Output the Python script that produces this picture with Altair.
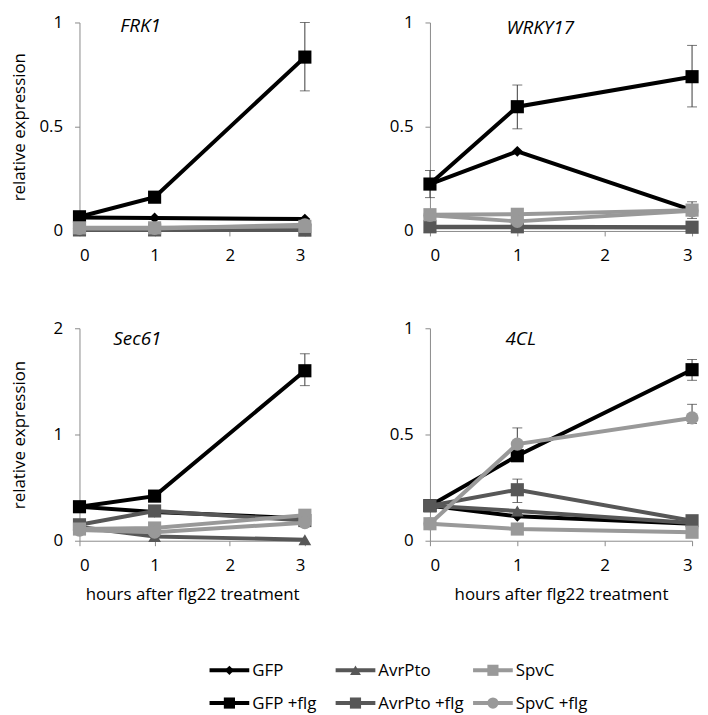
import altair as alt
import pandas as pd

hours = [0, 1, 3]
series = ["GFP", "GFP +flg", "AvrPto", "AvrPto +flg", "SpvC", "SpvC +flg"]
series_colors = ["#000000", "#000000", "#575757", "#575757", "#999999", "#999999"]
series_shapes = ["diamond", "square", "triangle-up", "square", "square", "circle"]
series_sizes = [120, 175, 165, 175, 175, 175]

# ---- values (relative expression) per gene, per series, at hours 0, 1, 3 ----
frk1_vals = [
    [0.065, 0.062, 0.057],   # GFP
    [0.068, 0.162, 0.834],   # GFP +flg
    [0.004, 0.004, 0.004],   # AvrPto
    [0.005, 0.005, 0.004],   # AvrPto +flg
    [0.015, 0.015, 0.022],   # SpvC
    [0.012, 0.012, 0.030],   # SpvC +flg
]
wrky17_vals = [
    [0.225, 0.382, 0.100],
    [0.225, 0.596, 0.740],
    [0.018, 0.018, 0.016],
    [0.020, 0.020, 0.018],
    [0.078, 0.080, 0.100],
    [0.075, 0.046, 0.097],
]
sec61_vals = [
    [0.32, 0.27, 0.21],
    [0.32, 0.42, 1.60],
    [0.13, 0.04, 0.01],
    [0.15, 0.28, 0.19],
    [0.11, 0.12, 0.24],
    [0.10, 0.08, 0.17],
]
cl4_vals = [
    [0.165, 0.115, 0.080],
    [0.165, 0.400, 0.805],
    [0.165, 0.140, 0.083],
    [0.165, 0.240, 0.094],
    [0.080, 0.055, 0.040],
    [0.080, 0.455, 0.578],
]

# ---- error bars: series, hour, low, high ----
frk1_err_series = ["GFP +flg"]
frk1_err_hour = [3]
frk1_err_lo = [0.672]
frk1_err_hi = [1.0]

wrky17_err_series = ["GFP +flg", "GFP +flg", "GFP +flg", "SpvC"]
wrky17_err_hour = [0, 1, 3, 3]
wrky17_err_lo = [0.16, 0.49, 0.595, 0.06]
wrky17_err_hi = [0.29, 0.70, 0.89, 0.14]

sec61_err_series = ["GFP +flg"]
sec61_err_hour = [3]
sec61_err_lo = [1.46]
sec61_err_hi = [1.76]

cl4_err_series = ["GFP +flg", "SpvC +flg", "SpvC +flg", "AvrPto +flg"]
cl4_err_hour = [3, 1, 3, 1]
cl4_err_lo = [0.755, 0.38, 0.552, 0.18]
cl4_err_hi = [0.853, 0.531, 0.642, 0.29]

FONT = "Open Sans"
AXIS_COLOR = "#8a8a8a"
LINE_W = 4


def panel(gene, vals, e_series, e_hour, e_lo, e_hi, ymax, yvalues, width, height,
          ytitle, xtitle, label_dx, label_dy):
    rows = []
    for s, v in zip(series, vals):
        for h, y in zip(hours, v):
            rows.append({"series": s, "hour": h, "value": y})
    df = pd.DataFrame(rows)
    edf = pd.DataFrame({"series": e_series, "hour": e_hour, "lo": e_lo, "hi": e_hi})

    xscale = alt.Scale(domain=[0, 3], nice=False, zero=False)
    yscale = alt.Scale(domain=[0, ymax], nice=False)
    xaxis_kw = dict(values=[0, 1, 2, 3], tickSize=5, labelPadding=12, grid=False,
                    titlePadding=13)
    if xtitle:
        xaxis = alt.Axis(title=xtitle, **xaxis_kw)
    else:
        xaxis = alt.Axis(title=None, **xaxis_kw)
    yaxis_kw = dict(values=yvalues, format="~g", tickSize=5, labelPadding=12, grid=False,
                    minExtent=43, maxExtent=43, titlePadding=8)
    if ytitle:
        yaxis = alt.Axis(title=ytitle, **yaxis_kw)
    else:
        yaxis = alt.Axis(title=None, **yaxis_kw)

    X = alt.X("hour:Q", scale=xscale, axis=xaxis)
    base = alt.Chart(df)
    ebase = alt.Chart(edf)

    layers = [
        ebase.mark_rule(color="#3a3a3a", strokeWidth=1).encode(
            x=X, y=alt.Y("lo:Q", scale=yscale, axis=yaxis), y2="hi:Q"),
        ebase.mark_tick(color="#3a3a3a", thickness=1, size=10, orient="horizontal").encode(
            x=X, y=alt.Y("lo:Q", scale=yscale, axis=yaxis)),
        ebase.mark_tick(color="#3a3a3a", thickness=1, size=10, orient="horizontal").encode(
            x=X, y=alt.Y("hi:Q", scale=yscale, axis=yaxis)),
    ]
    for s, c, sh, sz in zip(series, series_colors, series_shapes, series_sizes):
        sub = base.transform_filter(alt.datum.series == s)
        layers.append(sub.mark_line(color=c, strokeWidth=LINE_W).encode(
            x=X, y=alt.Y("value:Q", scale=yscale, axis=yaxis)))
        layers.append(sub.mark_point(shape=sh, size=sz, filled=True, color=c, opacity=1).encode(
            x=X, y=alt.Y("value:Q", scale=yscale, axis=yaxis)))
    layers.append(alt.Chart(pd.DataFrame({"gene": [gene]})).mark_text(
        font=FONT, fontSize=19, fontStyle="italic", align="left", baseline="alphabetic",
        color="#000000").encode(text="gene:N", x=alt.value(label_dx), y=alt.value(label_dy)))
    return alt.layer(*layers).properties(width=width, height=height)


LW = 227
RW = 264
TH = 210
BH = 214

p1 = panel("FRK1", frk1_vals, frk1_err_series, frk1_err_hour, frk1_err_lo, frk1_err_hi,
           1, [0, 0.5, 1], LW, TH, "relative expression", None, 41, 10)
p2 = panel("WRKY17", wrky17_vals, wrky17_err_series, wrky17_err_hour, wrky17_err_lo,
           wrky17_err_hi, 1, [0, 0.5, 1], RW, TH, None, None, 77, 12)
p3 = panel("Sec61", sec61_vals, sec61_err_series, sec61_err_hour, sec61_err_lo, sec61_err_hi,
           2, [0, 1, 2], LW, BH, "relative expression", "hours after flg22 treatment", 34, 17)
p4 = panel("4CL", cl4_vals, cl4_err_series, cl4_err_hour, cl4_err_lo, cl4_err_hi,
           1, [0, 0.5, 1], RW, BH, None, "hours after flg22 treatment", 76, 17)

# ---- legend (drawn as its own small chart) ----
legend_slot = [0, 0, 1, 1, 2.09, 2.09]
legend_row = [0, 1, 0, 1, 0, 1]
ldf = pd.DataFrame({"series": series, "slot": legend_slot, "row": legend_row})
LEG_W = 560
LEG_H = 66
PX = 127.0
lx = alt.Scale(domain=[-151 / PX, -151 / PX + LEG_W / PX], nice=False, zero=False)
ly = alt.Scale(domain=[-0.5, 1.5], reverse=True, nice=False, zero=False)
lbase = alt.Chart(ldf).transform_calculate(
    x1="datum.slot - 0.1575", x2="datum.slot + 0.1575", xt="datum.slot + 0.181")
leg_layers = []
for s, c, sh, sz in zip(series, series_colors, series_shapes, series_sizes):
    sub = lbase.transform_filter(alt.datum.series == s)
    leg_layers.append(sub.mark_rule(color=c, strokeWidth=LINE_W).encode(
        x=alt.X("x1:Q", scale=lx, axis=None), x2="x2:Q",
        y=alt.Y("row:Q", scale=ly, axis=None)))
    leg_layers.append(sub.mark_point(shape=sh, size=sz * 0.72, filled=True, color=c, opacity=1).encode(
        x=alt.X("slot:Q", scale=lx, axis=None), y=alt.Y("row:Q", scale=ly, axis=None)))
leg_layers.append(lbase.mark_text(font=FONT, fontSize=17, align="left", baseline="middle",
                                  color="#000000", dy=1).encode(
    x=alt.X("xt:Q", scale=lx, axis=None), y=alt.Y("row:Q", scale=ly, axis=None),
    text="series:N"))
legend = alt.layer(*leg_layers).properties(width=LEG_W, height=LEG_H)

# rows: flush bounds, so the spacing is the gap between the two plot areas
top = alt.hconcat(p1, p2, spacing=126, bounds="flush")
bottom = alt.hconcat(p3, p4, spacing=126, bounds="flush")
grid = alt.vconcat(top, bottom, spacing=56)
chart = alt.vconcat(grid, legend, spacing=52).properties(
    padding={"left": 3, "top": 3, "right": 0, "bottom": 0}).configure_view(
    stroke=None).configure_axis(
    domainColor=AXIS_COLOR, tickColor=AXIS_COLOR, domainWidth=1, tickWidth=1,
    labelFont=FONT, labelFontSize=17, labelColor="#000000",
    titleFont=FONT, titleFontSize=17, titleFontWeight="normal", titleColor="#000000")

chart.save("out.html", embed_options={"renderer": "svg", "actions": False})
